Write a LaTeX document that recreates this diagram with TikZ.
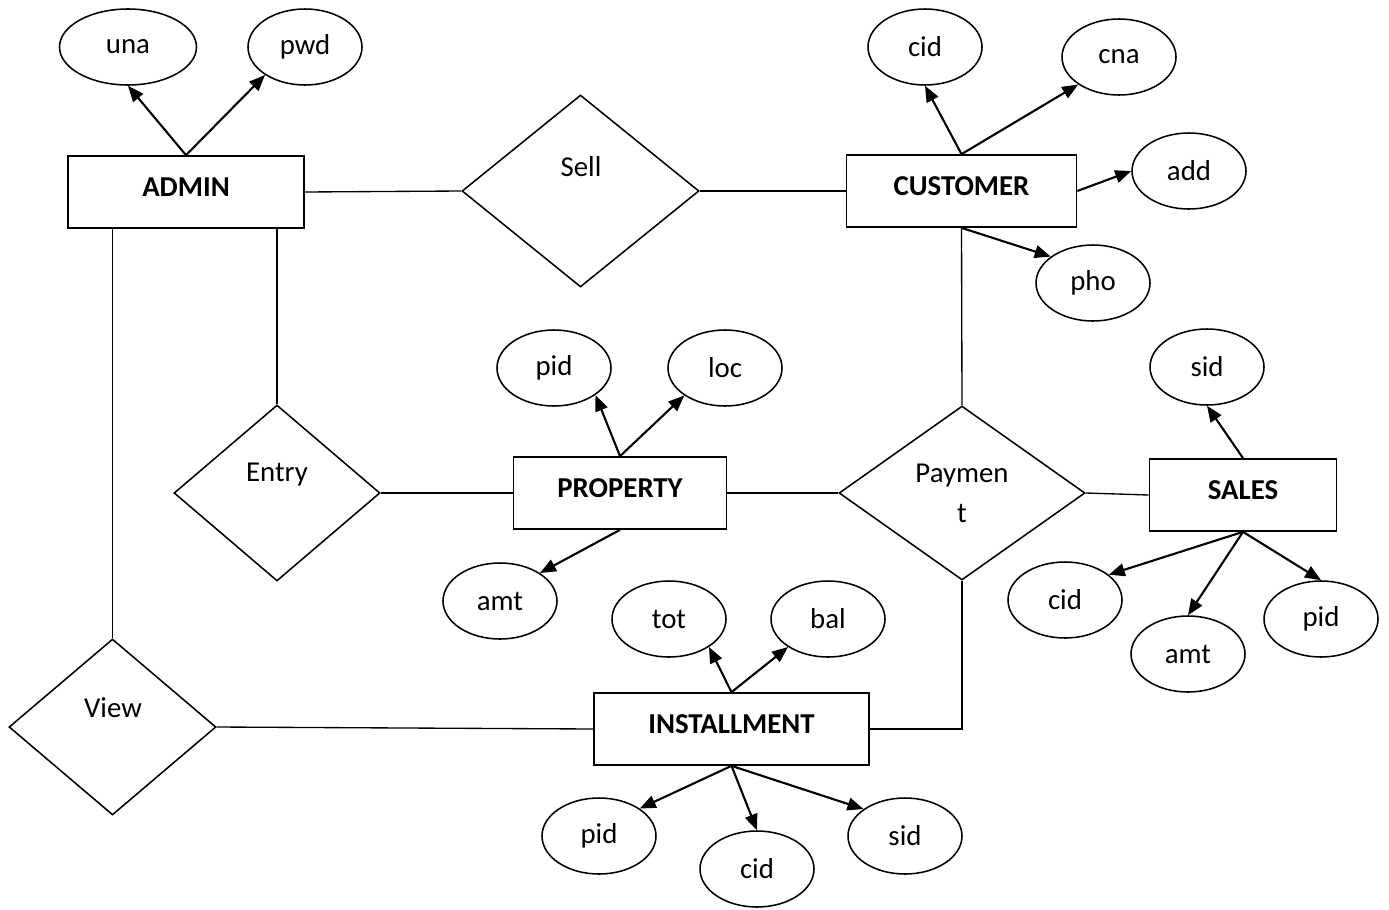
\documentclass[tikz,border=0pt]{standalone}
\usepackage{fontspec}
\setmainfont{Carlito}
\usetikzlibrary{positioning,arrows.meta,shapes.geometric}

\begin{document}
\begin{tikzpicture}[
  x=0.25mm, y=-0.25mm,
  font=\fontsize{20.5}{24.6}\selectfont,
  line width=0.95pt,
  ent/.style  = {draw, rectangle, line width=1.2pt, minimum width=#1,
                 minimum height=18mm, inner sep=0pt, text height=14pt, text depth=8pt,
                 font=\fontsize{20.5}{24.6}\selectfont\bfseries},
  rel/.style  = {draw, diamond, line width=1.1pt, inner sep=0pt, align=center},
  att/.style  = {draw, ellipse, line width=1.1pt, minimum width=28.5mm,
                 minimum height=19mm, inner sep=0pt},
  rtx/.style  = {inner sep=1pt},
  ar/.style   = {-{Triangle[length=4mm, width=3.2mm]}, line width=1.5pt},
]
\useasboundingbox (0,0) rectangle (1389,909);

% ======================= ADMIN =========================================
\node[ent=59mm] (adm) at (186,192) {ADMIN};
\node[att, minimum width=34.25mm] (una) at (128,47) {una};
\node[att] (pwd) at (305,47) {pwd};
\draw[ar] (adm.north) -- (una.south);
\draw[ar] (adm.north) -- (pwd.215);

% ======================= CUSTOMER ======================================
\node[ent=57.5mm] (cus) at (961.5,191) {CUSTOMER};
\node[att] (ccid) at (925,47) {cid};
\node[att] (cna)  at (1119,57) {cna};
\node[att] (add)  at (1189,171) {add};
\node[att] (pho)  at (1093,283) {pho};
\draw[ar] (cus.north) -- (ccid.south);
\draw[ar] (cus.north) -- (cna.214);
\draw[ar] (cus.east)  -- (add.west);
\draw[ar] (cus.south) -- (pho.148);

% ======================= PROPERTY ======================================
\node[ent=53.25mm] (prp) at (620,493) {PROPERTY};
\node[att] (ppid) at (554,368) {pid};
\node[att] (loc)  at (725,368) {loc};
\node[att] (pamt) at (500,601) {amt};
\draw[ar] (prp.north) -- (ppid.327);
\draw[ar] (prp.north) -- (loc.214);
\draw[ar] (prp.south) -- (pamt.35);

% ======================= SALES =========================================
\node[ent=46.75mm] (sal) at (1243,495) {SALES};
\node[att] (ssid) at (1207,367) {sid};
\node[att] (scid) at (1065,600) {cid};
\node[att] (samt) at (1188,654) {amt};
\node[att] (spid) at (1321,619) {pid};
\draw[ar] (sal.north) -- (ssid.south);
\draw[ar] (sal.south) -- (scid.30);
\draw[ar] (sal.south) -- (samt.north);
\draw[ar] (sal.south) -- (spid.north);

% ======================= INSTALLMENT ===================================
\node[ent=68.75mm] (inst) at (731.5,729) {INSTALLMENT};
\node[att] (tot)  at (669,619) {tot};
\node[att] (bal)  at (828,619) {bal};
\node[att] (ipid) at (599,836) {pid};
\node[att] (icid) at (757,869) {cid};
\node[att] (isid) at (905,836) {sid};
\draw[ar] (inst.north) -- (tot.325);
\draw[ar] (inst.north) -- (bal.215);
\draw[ar] (inst.south) -- (ipid.34);
\draw[ar] (inst.south) -- (icid.north);
\draw[ar] (inst.south) -- (isid.147);

% ======================= relationships =================================
\node[rel, minimum width=59.25mm, minimum height=48mm] (sell) at (580.5,191) {};
\node[rtx] (sellt) at (581,167) {Sell};
\node[rel, minimum width=51.5mm, minimum height=44mm] (ent) at (277,493) {};
\node[rtx] (entt) at (277,475) {Entry};
\node[rel, minimum width=61.5mm, minimum height=43.5mm] (pay) at (962,493) {Paymen\\[3.8pt]t};
\node[rel, minimum width=51.75mm, minimum height=44mm] (view) at (112.5,727) {};
\node[rtx] (viewt) at (113,708) {View};

% links
\draw (adm.east)  -- (sell.west);
\draw (sell.east) -- (cus.west);
\draw (cus.south) -- (pay.north);
\draw (pay.east)  -- (sal.west);
\draw (ent.east)  -- (prp.west);
\draw (prp.east)  -- (pay.west);
\draw (ent.north)  -- (ent.north |- adm.south);
\draw (view.north) -- (view.north |- adm.south);
\draw (view.east)  -- (inst.west);
\draw (inst.east)  -| (pay.south);

\end{tikzpicture}
\end{document}
